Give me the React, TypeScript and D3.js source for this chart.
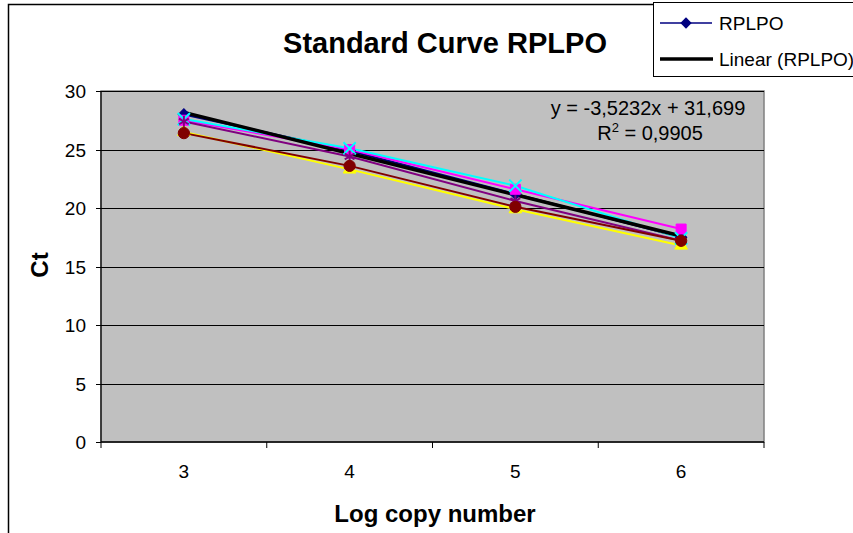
import React from 'react';
import * as d3 from 'd3';

// log copy number categories
const categories = ['3', '4', '5', '6'];
const yTicks = [0, 5, 10, 15, 20, 25, 30];

// Ct values per replicate series
const rplpo = [28.0, 24.9, 21.2, 17.5];
const serie2 = [27.5, 25.0, 21.6, 18.2];
const serie3 = [26.5, 23.3, 19.9, 16.8];
const serie4 = [27.6, 25.1, 21.9, 17.4];
const serie5 = [27.4, 24.4, 20.6, 17.2];
const serie6 = [26.4, 23.6, 20.1, 17.2];

// trendline of RPLPO (as printed on the chart)
const slope = -3.5232;
const intercept = 31.699;
const equationText = 'y = -3,5232x + 31,699';
const r2Text = '0,9905';

const FONT = '"Liberation Sans", Arial, sans-serif';

const series = [
  { name: 'RPLPO', values: rplpo, color: '#000080', symbol: d3.symbolSquare, size: 64, rot: 45, stroke: false },
  { name: 's2', values: serie2, color: '#FF00FF', symbol: d3.symbolSquare, size: 100, rot: 0, stroke: false },
  { name: 's3', values: serie3, color: '#FFFF00', symbol: d3.symbolTriangle, size: 70, rot: 0, stroke: false },
  { name: 's4', values: serie4, color: '#00FFFF', symbol: d3.symbolX, size: 100, rot: 0, stroke: true },
  { name: 's5', values: serie5, color: '#800080', symbol: d3.symbolAsterisk, size: 90, rot: 0, stroke: true },
  { name: 's6', values: serie6, color: '#800000', symbol: d3.symbolCircle, size: 100, rot: 0, stroke: false },
];

export default function App() {
  const width = 853;
  const height = 533;
  const plot = { left: 101, right: 764, top: 91, bottom: 442 };

  const x = d3.scaleBand<string>().domain(categories).range([plot.left, plot.right]);
  const cx = (c: string) => (x(c) ?? 0) + x.bandwidth() / 2;
  const y = d3.scaleLinear().domain([0, 30]).range([plot.bottom, plot.top]);

  const line = d3.line<number>()
    .x((_, i) => cx(categories[i]))
    .y(d => y(d));

  const trend = categories.map((_, i) => slope * (i + 1) + intercept);

  const bounds = [...categories.map(c => x(c) ?? 0), plot.right];

  return (
    <div style={{ position: 'fixed', left: 0, top: 0 }}>
      <svg width={width} height={height} style={{ display: 'block', background: '#fff' }} fontFamily={FONT}>
        {/* chart frame */}
        <rect x={8.5} y={4.5} width={1000} height={1000} fill="#fff" stroke="#000" strokeWidth={1.5} />

        <text x={445} y={53} textAnchor="middle" fontSize={29} fontWeight="bold">Standard Curve RPLPO</text>

        {/* plot area */}
        <rect x={plot.left} y={plot.top} width={plot.right - plot.left} height={plot.bottom - plot.top}
          fill="#C0C0C0" stroke="#808080" strokeWidth={1.5} />
        {yTicks.filter(t => t > 0).map(t => (
          <line key={t} x1={plot.left} x2={plot.right} y1={Math.round(y(t)) + 0.5} y2={Math.round(y(t)) + 0.5}
            stroke="#000" strokeWidth={1} />
        ))}

        {/* y axis */}
        <line x1={plot.left} x2={plot.left} y1={plot.top} y2={plot.bottom} stroke="#000" strokeWidth={1.2} />
        {yTicks.map(t => (
          <g key={t}>
            <line x1={plot.left - 5} x2={plot.left} y1={Math.round(y(t)) + 0.5} y2={Math.round(y(t)) + 0.5} stroke="#000" />
            <text x={plot.left - 15} y={y(t) + 7} textAnchor="end" fontSize={19}>{t}</text>
          </g>
        ))}

        {/* x axis */}
        <line x1={plot.left} x2={plot.right} y1={plot.bottom} y2={plot.bottom} stroke="#000" strokeWidth={1.5} />
        {bounds.map((b, i) => (
          <line key={i} x1={b} x2={b} y1={plot.bottom} y2={plot.bottom + 6} stroke="#000" />
        ))}
        {categories.map(c => (
          <text key={c} x={cx(c)} y={478} textAnchor="middle" fontSize={19}>{c}</text>
        ))}

        <text x={435} y={522} textAnchor="middle" fontSize={24} fontWeight="bold">Log copy number</text>
        <text transform="translate(48,265) rotate(-90)" textAnchor="middle" fontSize={24} fontWeight="bold">Ct</text>

        {/* series lines */}
        {series.map(s => (
          <path key={s.name} d={line(s.values) ?? ''} fill="none" stroke={s.color} strokeWidth={2} />
        ))}

        {/* trendline */}
        <path d={line(trend) ?? ''} fill="none" stroke="#000" strokeWidth={3.5} />

        {/* markers */}
        {series.map(s => s.values.map((v, i) => {
          const p = d3.symbol(s.symbol, s.size)();
          return (
            <path key={s.name + i} d={p ?? ''}
              transform={`translate(${cx(categories[i])},${y(v)}) rotate(${s.rot})`}
              fill={s.stroke ? 'none' : s.color}
              stroke={s.color} strokeWidth={s.stroke ? 2 : 1} />
          );
        }))}

        {/* equation */}
        <text x={648} y={115} textAnchor="middle" fontSize={20}>{equationText}</text>
        <text x={650} y={140} textAnchor="middle" fontSize={20}>
          R<tspan dy={-8} fontSize={13}>2</tspan><tspan dy={8}> = {r2Text}</tspan>
        </text>

        {/* legend */}
        <rect x={653.5} y={2.5} width={220} height={74} fill="#fff" stroke="#000" strokeWidth={1} />
        <line x1={660} x2={712} y1={23} y2={23} stroke="#000080" strokeWidth={1.5} />
        <path d={d3.symbol(d3.symbolSquare, 64)() ?? ''} transform="translate(686,23) rotate(45)" fill="#000080" />
        <text x={719} y={30} fontSize={19}>RPLPO</text>
        <line x1={660} x2={713} y1={59} y2={59} stroke="#000" strokeWidth={3.5} />
        <text x={719} y={66} fontSize={19}>Linear (RPLPO)</text>
      </svg>
    </div>
  );
}
